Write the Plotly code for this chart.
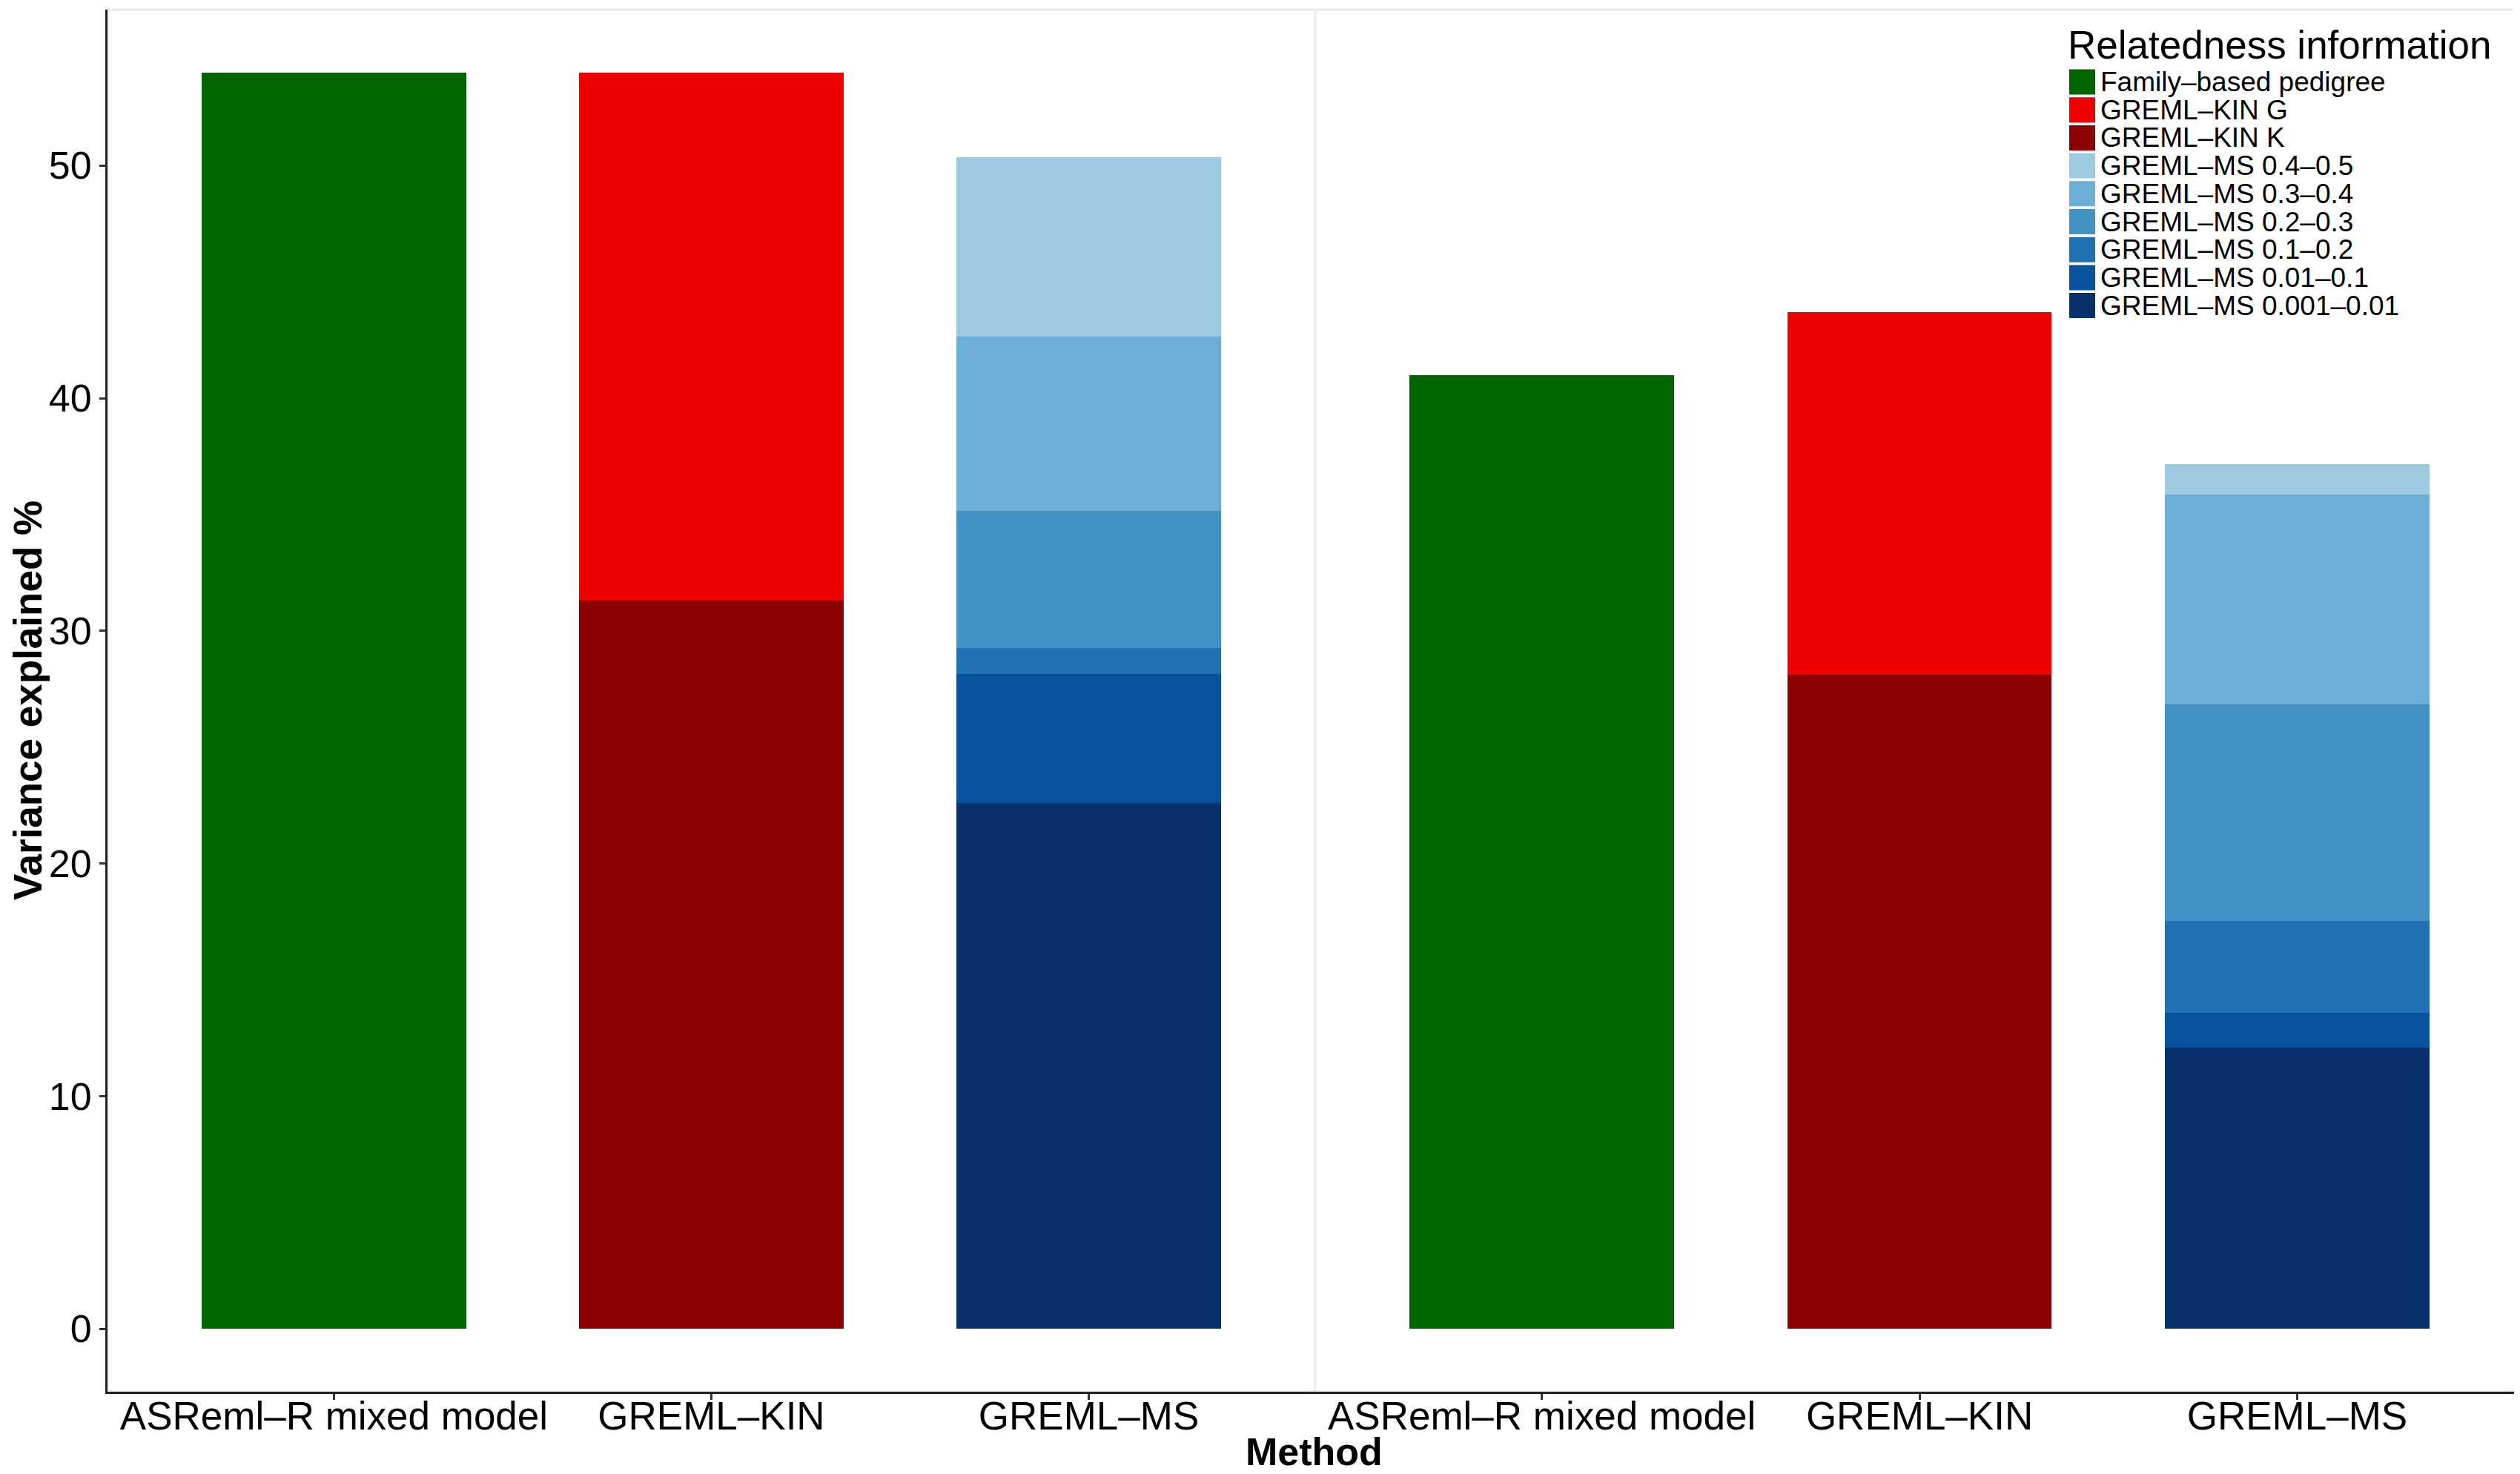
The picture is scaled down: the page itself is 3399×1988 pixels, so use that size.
import plotly.graph_objects as go

# ---------------- data ----------------
methods = ["ASReml–R mixed model", "GREML–KIN", "GREML–MS"]

legend_labels = [
    "Family–based pedigree",
    "GREML–KIN G",
    "GREML–KIN K",
    "GREML–MS 0.4–0.5",
    "GREML–MS 0.3–0.4",
    "GREML–MS 0.2–0.3",
    "GREML–MS 0.1–0.2",
    "GREML–MS 0.01–0.1",
    "GREML–MS 0.001–0.01",
]
legend_colors = ["#006400", "#EE0000", "#8B0000", "#9ECAE1", "#6BAED6",
                 "#4292C6", "#2171B5", "#08519C", "#08306B"]

# stacking order of the GREML-MS bins (bottom -> top)
ms_bins = ["GREML–MS 0.001–0.01", "GREML–MS 0.01–0.1", "GREML–MS 0.1–0.2",
           "GREML–MS 0.2–0.3", "GREML–MS 0.3–0.4", "GREML–MS 0.4–0.5"]

# left panel
left_family = 54.0
left_kin_k = 31.3
left_kin_g = 22.7
left_ms = [22.6, 5.55, 1.1, 5.9, 7.5, 7.7]

# right panel
right_family = 41.0
right_kin_k = 28.1
right_kin_g = 15.6
right_ms = [12.1, 1.5, 3.95, 9.3, 9.0, 1.3]

y_ticks = [0, 10, 20, 30, 40, 50]

color_of = dict(zip(legend_labels, legend_colors))

# ---------------- geometry helpers ----------------
OFF = 8                      # page body margin of the html file
W, H = 3399 - OFF, 1988 - OFF
L, T = 145 - OFF, 13 - OFF
AXB = 1877 - OFF             # x-axis line position inside the figure
R = 0
B = H - AXB
PW, PH = W - L - R, AXB - T


def px(x):
    """reference-page x pixel -> paper coordinate"""
    return (x - OFF - L) / PW


def py(y):
    """reference-page y pixel -> paper coordinate"""
    return (AXB - (y - OFF)) / PH


FONT = "Liberation Sans, Arial, sans-serif"
split = px(1774)

fig = go.Figure()


def add_panel(xref, family, kin_k, kin_g, ms):
    fig.add_trace(go.Bar(x=[methods[0]], y=[family], xaxis=xref, yaxis="y",
                         name="Family–based pedigree",
                         marker=dict(color=color_of["Family–based pedigree"], line=dict(width=0)),
                         width=0.7, showlegend=False))
    fig.add_trace(go.Bar(x=[methods[1]], y=[kin_k], xaxis=xref, yaxis="y",
                         name="GREML–KIN K",
                         marker=dict(color=color_of["GREML–KIN K"], line=dict(width=0)),
                         width=0.7, showlegend=False))
    fig.add_trace(go.Bar(x=[methods[1]], y=[kin_g], xaxis=xref, yaxis="y",
                         name="GREML–KIN G",
                         marker=dict(color=color_of["GREML–KIN G"], line=dict(width=0)),
                         width=0.7, showlegend=False))
    for lab, v in zip(ms_bins, ms):
        fig.add_trace(go.Bar(x=[methods[2]], y=[v], xaxis=xref, yaxis="y",
                             name=lab,
                             marker=dict(color=color_of[lab], line=dict(width=0)),
                             width=0.7, showlegend=False))


add_panel("x", left_family, left_kin_k, left_kin_g, left_ms)
add_panel("x2", right_family, right_kin_k, right_kin_g, right_ms)

axis_common = dict(
    type="category",
    categoryorder="array",
    categoryarray=methods,
    showgrid=False,
    zeroline=False,
    showline=True,
    linecolor="#222222",
    linewidth=3,
    ticks="outside",
    ticklen=8,
    tickwidth=2.5,
    tickcolor="#333333",
    ticklabelstandoff=-24,
    tickfont=dict(family=FONT, size=53, color="black"),
    anchor="y",
)

fig.update_layout(
    width=W, height=H,
    margin=dict(l=L, r=R, t=T, b=B, pad=0, autoexpand=False),
    paper_bgcolor="white",
    plot_bgcolor="white",
    barmode="stack",
    showlegend=False,
    xaxis=dict(domain=[0, split], range=[-0.6, 2.6], **axis_common),
    xaxis2=dict(domain=[split, 1], range=[-0.6, 2.59], **axis_common),
    yaxis=dict(
        range=[-2.7, 56.7],
        tickvals=y_ticks,
        ticktext=[str(v) for v in y_ticks],
        showgrid=False,
        zeroline=False,
        showline=True,
        linecolor="#222222",
        linewidth=3,
        ticks="outside",
        ticklen=8,
        tickwidth=2.5,
        tickcolor="#333333",
        tickfont=dict(family=FONT, size=52, color="black"),
        anchor="x",
    ),
)

# light grey panel borders
for xr in ["x", "x2"]:
    fig.add_shape(type="rect", xref=f"{xr} domain", yref="y domain",
                  x0=0, x1=1, y0=0, y1=1,
                  line=dict(color="#EBEBEB", width=3), layer="below")

# axis titles
fig.add_annotation(text="<b>Method</b>", xref="paper", yref="paper",
                   x=0.5, y=py(1988), xanchor="center", yanchor="bottom",
                   borderpad=0,
                   showarrow=False, font=dict(family=FONT, size=52, color="black"))
fig.add_annotation(text="<b>Variance explained %</b>", xref="paper", yref="paper",
                   x=px(37), y=py(945), xanchor="center", yanchor="middle",
                   textangle=-90, showarrow=False,
                   font=dict(family=FONT, size=53, color="black"))

# legend (drawn manually to reproduce the large keys)
fig.add_annotation(text="Relatedness information", xref="paper", yref="paper",
                   x=px(2787), y=py(61), xanchor="left", yanchor="middle",
                   showarrow=False, font=dict(family=FONT, size=53, color="black"))
key_x0, key_x1 = 2791, 2826
pitch = 37.7
first_c = 110.5
for i, (lab, col) in enumerate(zip(legend_labels, legend_colors)):
    c = first_c + i * pitch
    fig.add_shape(type="rect", xref="paper", yref="paper",
                  x0=px(key_x0), x1=px(key_x1), y0=py(c + 17), y1=py(c - 17),
                  fillcolor=col, line=dict(width=0), layer="above")
    fig.add_annotation(text=lab, xref="paper", yref="paper",
                       x=px(2831), y=py(c), xanchor="left", yanchor="middle",
                       showarrow=False, font=dict(family=FONT, size=37, color="black"))

fig.write_html("out.html")
